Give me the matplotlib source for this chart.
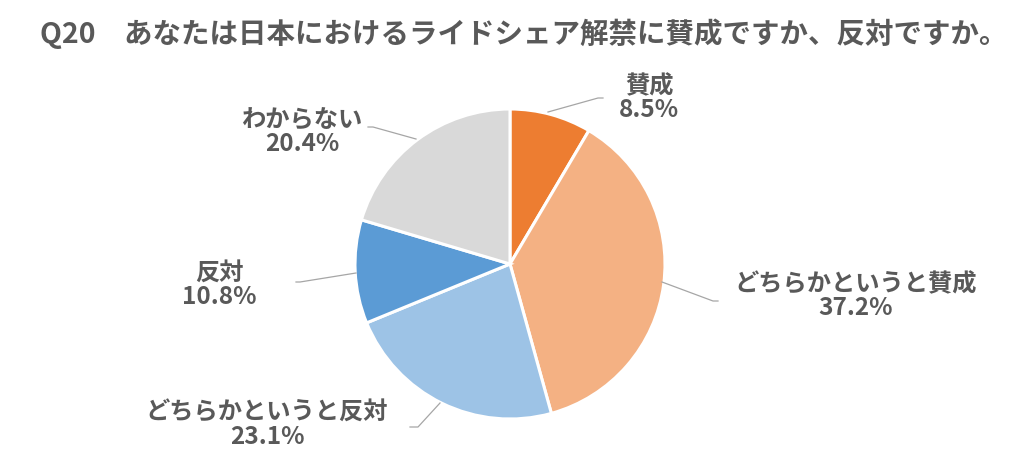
import matplotlib
matplotlib.use("Agg")
import matplotlib.pyplot as plt

plt.rcParams['font.family'] = ['Noto Sans CJK JP', 'DejaVu Sans']

# ---- data ----
categories = ["賛成", "どちらかというと賛成", "どちらかというと反対", "反対", "わからない"]
values = [8.5, 37.2, 23.1, 10.8, 20.4]
colors = ["#ED7D31", "#F4B183", "#9DC3E6", "#5B9BD5", "#D9D9D9"]
title = "Q20\u3000あなたは日本におけるライドシェア解禁に賛成ですか、反対ですか。"

# ---- layout (pixel coordinates, y from top) ----
W, H = 1024, 477
center_px = (510, 265)
radius_px = 155
# label centres and leader-line polylines, per category
label_pos = [(649, 98), (856, 296), (267, 425), (219, 285), (302, 132)]
leaders = [
    [(548, 113), (598, 99), (603, 99)],
    [(662, 283), (713, 302), (718, 302)],
    [(440, 404), (418, 428), (410, 428)],
    [(356, 274), (300, 283), (296, 283)],
    [(416, 140), (373, 128), (368, 128)],
]
text_color = "#595959"
line_color = "#A6A6A6"

fig = plt.figure(figsize=(W / 100, H / 100), dpi=100)
ax = fig.add_axes([0, 0, 1, 1])
ax.set_xlim(0, W)
ax.set_ylim(0, H)
ax.set_aspect('equal')
ax.axis('off')

def fy(y):
    return H - y

ax.pie(values, colors=colors, startangle=90, counterclock=False,
       center=(center_px[0], fy(center_px[1])), radius=radius_px,
       wedgeprops=dict(edgecolor='white', linewidth=2.2))
ax.set_xlim(0, W)
ax.set_ylim(0, H)

for cat, val, (lx, ly), pts in zip(categories, values, label_pos, leaders):
    ax.text(lx, fy(ly), f"{cat}\n{val:.1f}%", ha='center', va='center',
            fontsize=17.5, fontweight='bold', color=text_color, linespacing=1.0)
    xs = [p[0] for p in pts]
    ys = [fy(p[1]) for p in pts]
    ax.plot(xs, ys, color=line_color, linewidth=0.9)

fig.text(40 / W, 1 - 34 / H, title, ha='left', va='center', fontsize=20.5,
         fontweight='bold', color=text_color)

fig.savefig("out.png", dpi=100, facecolor='white')
